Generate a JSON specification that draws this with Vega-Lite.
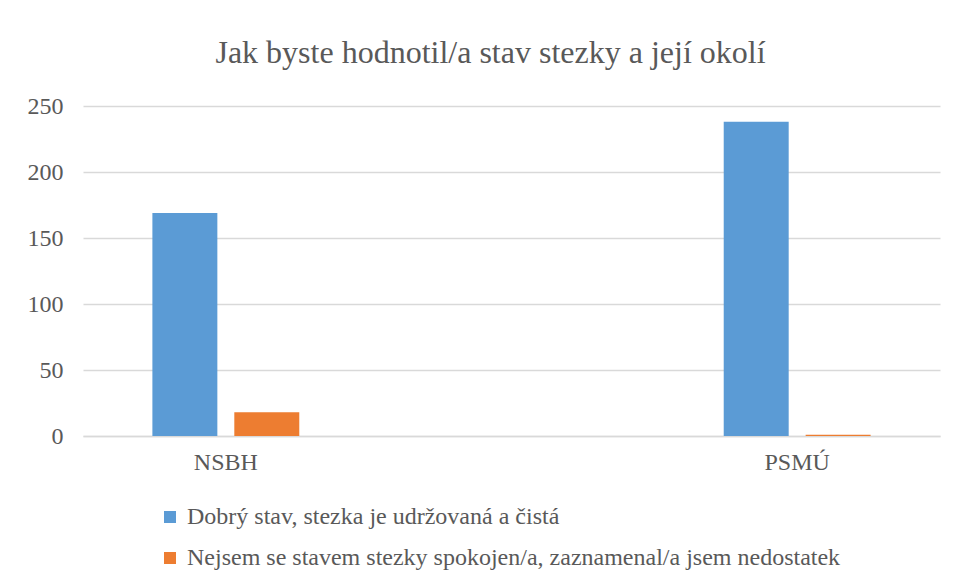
{
  "$schema": "https://vega.github.io/schema/vega-lite/v6.json",
  "autosize": "none",
  "width": 857,
  "height": 330,
  "padding": {"left": 83, "top": 106, "right": 16, "bottom": 147},
  "background": "white",
  "title": {
    "text": "Jak byste hodnotil/a stav stezky a její okolí",
    "font": "'Liberation Serif', 'DejaVu Serif', serif",
    "fontSize": 32,
    "fontWeight": "normal",
    "color": "#595959",
    "anchor": "middle",
    "dx": -21,
    "offset": 24
  },
  "data": {
    "values": [
      {"kategorie": "NSBH", "odpoved": "Dobrý stav, stezka je udržovaná a čistá", "pocet": 169},
      {"kategorie": "NSBH", "odpoved": "Nejsem se stavem stezky spokojen/a, zaznamenal/a jsem nedostatek", "pocet": 18},
      {"kategorie": "PSMÚ", "odpoved": "Dobrý stav, stezka je udržovaná a čistá", "pocet": 238},
      {"kategorie": "PSMÚ", "odpoved": "Nejsem se stavem stezky spokojen/a, zaznamenal/a jsem nedostatek", "pocet": 1}
    ]
  },
  "mark": {"type": "bar"},
  "encoding": {
    "x": {
      "field": "kategorie",
      "type": "nominal",
      "scale": {"domain": ["NSBH", "", "PSMÚ"], "paddingInner": 0, "paddingOuter": 0},
      "axis": {
        "title": null,
        "labelAngle": 0,
        "ticks": false,
        "domainColor": "#d9d9d9",
        "domainWidth": 1.5,
        "labelFont": "'Liberation Serif', 'DejaVu Serif', serif",
        "labelFontSize": 24,
        "labelColor": "#595959",
        "labelPadding": 14
      }
    },
    "xOffset": {
      "field": "odpoved",
      "type": "nominal",
      "scale": {
        "domain": ["Dobrý stav, stezka je udržovaná a čistá", "Nejsem se stavem stezky spokojen/a, zaznamenal/a jsem nedostatek"],
        "paddingInner": 0.207,
        "paddingOuter": 0.847
      }
    },
    "y": {
      "field": "pocet",
      "type": "quantitative",
      "scale": {"domain": [0, 250], "nice": false},
      "axis": {
        "title": null,
        "values": [0, 50, 100, 150, 200, 250],
        "domain": false,
        "ticks": false,
        "gridColor": "#d9d9d9",
        "gridWidth": 1.5,
        "labelFont": "'Liberation Serif', 'DejaVu Serif', serif",
        "labelFontSize": 24,
        "labelColor": "#595959",
        "labelPadding": 20
      }
    },
    "color": {
      "field": "odpoved",
      "type": "nominal",
      "scale": {
        "domain": ["Dobrý stav, stezka je udržovaná a čistá", "Nejsem se stavem stezky spokojen/a, zaznamenal/a jsem nedostatek"],
        "range": ["#5b9bd5", "#ed7d31"]
      },
      "legend": {
        "title": null,
        "orient": "none",
        "legendX": 75,
        "legendY": 399,
        "direction": "vertical",
        "padding": 0,
        "symbolType": "square",
        "symbolSize": 144,
        "symbolStrokeWidth": 0,
        "labelFont": "'Liberation Serif', 'DejaVu Serif', serif",
        "labelFontSize": 24,
        "labelColor": "#595959",
        "labelOffset": 5,
        "labelLimit": 900,
        "rowPadding": 17
      }
    }
  },
  "config": {
    "view": {"stroke": null}
  }
}
